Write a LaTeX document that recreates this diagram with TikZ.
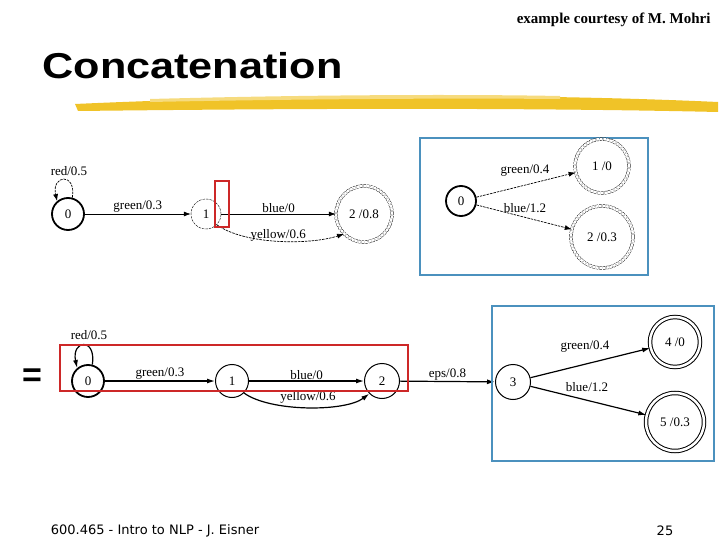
\documentclass[tikz,border=0pt]{standalone}
\usepackage{fontspec}
\setmainfont{Liberation Serif}
\newfontfamily\sans{Liberation Sans}
\newfontfamily\dvs{DejaVu Sans}
\usetikzlibrary{arrows.meta}
\definecolor{boxblue}{RGB}{75,145,190}
\definecolor{boxred}{RGB}{205,40,40}
\definecolor{brush}{RGB}{240,195,40}
\begin{document}
\begin{tikzpicture}[x=1pt,y=-1pt,
  st/.style={circle,draw,minimum size=30pt,inner sep=0pt,font=\fontsize{13}{13}\selectfont},
  init/.style={st,line width=1.8pt},
  fin/.style={st,double,double distance=2.5pt},
  dsh/.style={dash pattern=on 2.5pt off 1pt},
  lab/.style={font=\fontsize{13}{13}\selectfont,inner sep=1pt},
  ar/.style={-{Latex[length=7pt,width=5pt]},line width=0.7pt},
  ar2/.style={-{Latex[length=8pt,width=5pt]},line width=1.2pt}]
\useasboundingbox (0,0) rectangle (720,540);
% header
\node[font=\bfseries\fontsize{15}{15}\selectfont,anchor=east] (hdr) at (714,20) {example courtesy of M. Mohri};
\node[font=\sans\bfseries\fontsize{36}{36}\selectfont,anchor=west,xscale=1.2,line width=0.8pt] (ttl) at (38,66) {Concatenation};
\fill[brush] (75,104) .. controls (250,96) and (500,92) .. (718,102) -- (718,112) .. controls (500,107) and (250,109) .. (78,111) -- cycle;
\fill[brush!60] (150,99) .. controls (300,95) and (450,94) .. (560,96) -- (560,99) .. controls (450,98) and (300,99) .. (150,102) -- cycle;
% top-left machine
\node[init,minimum size=32pt] (a0) at (68,214) {0};
\node[st,dsh] (a1) at (206,214) {1};
\node[fin,dsh,minimum size=56pt] (a2) at (364,214) {2 /0.8};
\draw[ar,dsh] (a0.75) .. controls +(4,-26) and +(-6,-26) .. (a0.130);
\node[lab] (la0) at (69,171) {red/0.5};
\draw[ar] (a0) -- (a1) node[lab,midway,above] (la1) {green/0.3};
\draw[ar] (a1) -- (a2) node[lab,midway,above] (la2) {blue/0};
\draw[ar,dsh] (a1.south east) .. controls (245,245) and (310,245) .. (a2.south west) node[lab,midway,above,yshift=-2pt] (la3) {yellow/0.6};
\draw[boxred,line width=1.5pt] (215,181) rectangle (229,227);
% top-right machine
\draw[boxblue,line width=1.5pt] (420,138) rectangle (648,275);
\node[init] (b0) at (461,201) {0};
\node[fin,dsh,minimum size=54pt] (b1) at (602,166) {1 /0};
\node[fin,dsh,minimum size=62pt] (b2) at (602,237) {2 /0.3};
\draw[ar,dsh] (b0) -- (b1);
\draw[ar,dsh] (b0) -- (b2);
\node[lab] (lb1) at (525,171) {green/0.4};
\node[lab] (lb2) at (525,208) {blue/1.2};
% bottom machine
\node[font=\sans\bfseries\fontsize{34}{34}\selectfont] (eq) at (32,378) {=};
\node[init,minimum size=32pt] (c0) at (88,381) {0};
\node[st,line width=1pt,minimum size=33pt] (c1) at (232,381) {1};
\node[st,line width=1pt,minimum size=35pt] (c2) at (382,381) {2};
\node[st,line width=1pt,minimum size=35pt] (c3) at (513,382) {3};
\node[fin,line width=1pt,minimum size=50pt] (c4) at (675,342) {4 /0};
\node[fin,line width=1pt,minimum size=58pt] (c5) at (675,422) {5 /0.3};
\draw[ar2] (c0.75) .. controls +(4,-28) and +(-6,-28) .. (c0.130);
\node[lab] (lc0) at (89,335) {red/0.5};
\draw[ar2] (c0) -- (c1) node[lab,midway,above] (lc1) {green/0.3};
\draw[ar2] (c1) -- (c2) node[lab,midway,above] (lc2) {blue/0};
\draw[ar2] (c1.south east) .. controls (270,412) and (345,412) .. (c2.south west);
\node[lab] (lc3) at (308,397) {yellow/0.6};
\draw[ar2] (c2) -- (c3) node[lab,midway,above] (lc4) {eps/0.8};
\draw[ar2] (c3) -- (c4);
\draw[ar2] (c3) -- (c5);
\node[lab] (lc5) at (585,347) {green/0.4};
\node[lab] (lc6) at (587,387) {blue/1.2};
\draw[boxred,line width=1.5pt] (60,345) rectangle (408,391);
\draw[boxblue,line width=1.5pt] (492,306) rectangle (714,461);
% footer
\node[font=\dvs\fontsize{13}{13}\selectfont] (ft) at (155,531) {600.465 - Intro to NLP - J. Eisner};
\node[font=\dvs\fontsize{13}{13}\selectfont] (pg) at (665,531) {25};
\end{tikzpicture}
\end{document}
